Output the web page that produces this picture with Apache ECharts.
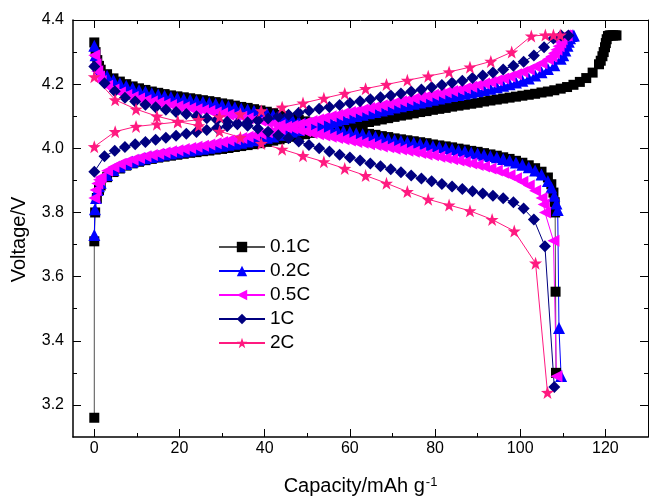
<!DOCTYPE html>
<html>
<head>
<meta charset="utf-8">
<script src="https://cdn.jsdelivr.net/npm/echarts@6/dist/echarts.min.js"></script>
<style>
html,body{margin:0;padding:0;background:#fff;}
#chart{width:650px;height:496px;}
</style>
</head>
<body>
<div id="chart"></div>
<script>
// Charge / discharge voltage profiles at several C-rates.

const rateNames = ['0.1C', '0.2C', '0.5C', '1C', '2C'];
const xMajorTicks = [0, 20, 40, 60, 80, 100, 120];
const xMinorTicks = [10, 30, 50, 70, 90, 110];
const yMajorTicks = [3.2, 3.4, 3.6, 3.8, 4.0, 4.2, 4.4];
const yMinorTicks = [3.3, 3.5, 3.7, 3.9, 4.1, 4.3];

// Capacity grid (mAh/g) shared by the densely sampled low-rate curves
const capGrid = [1.5,3,4.5,6,7.5,9,10.5,12,13.5,15,16.5,18,19.5,21,22.5,24,25.5,27,28.5,30,
  31.5,33,34.5,36,37.5,39,40.5,42,43.5,45,46.5,48,49.5,51,52.5,54,55.5,57,58.5,60,
  61.5,63,64.5,66,67.5,69,70.5,72,73.5,75,76.5,78,79.5,81,82.5,84,85.5,87,88.5,90,
  91.5,93,94.5,96,97.5,99,100.5,102,103.5,105,106.5,108,109.5,111,112.5,114,115.5,117,118.5,120];

// 0.1C
const head01Dis = [[0,4.33],[0.3,4.3],[0.7,4.275],[1.1,4.257]];
const volt01Dis = [4.245,4.231,4.218,4.208,4.2,4.193,4.187,4.182,4.177,4.173,
  4.169,4.165,4.162,4.159,4.156,4.153,4.15,4.147,4.144,4.14,
  4.137,4.133,4.129,4.126,4.122,4.118,4.114,4.109,4.104,4.099,
  4.094,4.089,4.084,4.08,4.075,4.071,4.067,4.063,4.059,4.056,
  4.052,4.049,4.045,4.042,4.038,4.035,4.031,4.028,4.025,4.022,
  4.019,4.016,4.012,4.009,4.006,4.003,3.999,3.996,3.992,3.989,
  3.985,3.981,3.977,3.972,3.967,3.961,3.955,3.947,3.938,3.927,
  3.909];
const tail01Dis = [[107.3,3.888],[107.8,3.862],[108.1,3.832],[108.2,3.8],[108.3,3.553],[108.4,3.3]];
const head01Chg = [[0,3.16],[0,3.71],[0.2,3.8],[0.6,3.845],[1.1,3.87]];
const volt01Chg = [3.884,3.91,3.926,3.937,3.946,3.953,3.958,3.963,3.967,3.971,
  3.974,3.977,3.98,3.983,3.986,3.988,3.991,3.993,3.996,3.998,
  4.001,4.004,4.007,4.01,4.013,4.016,4.02,4.024,4.028,4.032,
  4.036,4.04,4.044,4.048,4.052,4.056,4.06,4.064,4.067,4.07,
  4.074,4.078,4.082,4.086,4.09,4.094,4.098,4.102,4.105,4.109,
  4.113,4.116,4.12,4.123,4.126,4.13,4.133,4.136,4.139,4.142,
  4.146,4.149,4.152,4.155,4.158,4.161,4.164,4.167,4.17,4.174,
  4.177,4.181,4.186,4.191,4.198,4.207,4.219,4.236,4.262];
const tail01Chg = [[118.9,4.273],[119.3,4.287],[119.6,4.3],[119.9,4.315],[120.1,4.328],[120.3,4.34],
  [120.6,4.35],[121,4.352],[121.4,4.352],[121.8,4.352],[122.2,4.352],[122.6,4.352]];

// 0.2C
const head02Dis = [[0,4.32],[0.3,4.29],[0.7,4.266],[1.1,4.25]];
const volt02Dis = [4.24,4.226,4.213,4.203,4.195,4.188,4.182,4.177,4.172,4.168,
  4.164,4.16,4.157,4.154,4.151,4.148,4.145,4.142,4.139,4.135,
  4.132,4.128,4.124,4.121,4.117,4.113,4.109,4.104,4.099,4.094,
  4.089,4.084,4.079,4.075,4.07,4.066,4.062,4.058,4.054,4.051,
  4.047,4.044,4.04,4.037,4.033,4.03,4.026,4.023,4.02,4.017,
  4.014,4.011,4.007,4.004,4.001,3.998,3.994,3.991,3.987,3.984,
  3.98,3.976,3.972,3.967,3.962,3.956,3.949,3.941,3.931,3.918,
  3.898];
const tail02Dis = [[107.3,3.878],[108,3.852],[108.5,3.828],[108.8,3.808],[109.1,3.44],[109.6,3.29]];
const head02Chg = [[0,3.73],[0.15,3.81],[0.4,3.845],[0.8,3.87],[1.1,3.882]];
const volt02Chg = [3.893,3.917,3.932,3.943,3.951,3.958,3.964,3.969,3.973,3.977,
  3.981,3.984,3.987,3.99,3.993,3.996,3.999,4.002,4.005,4.008,
  4.011,4.014,4.017,4.021,4.025,4.029,4.033,4.037,4.042,4.047,
  4.052,4.057,4.062,4.067,4.072,4.077,4.082,4.087,4.091,4.096,
  4.101,4.105,4.109,4.113,4.118,4.122,4.127,4.131,4.135,4.139,
  4.143,4.147,4.151,4.155,4.159,4.163,4.166,4.17,4.174,4.178,
  4.182,4.186,4.19,4.195,4.2,4.205,4.211,4.218,4.227,4.237,
  4.247,4.259,4.279];
const tail02Chg = [[110.1,4.29],[110.6,4.305],[111.1,4.32],[111.4,4.332],[111.7,4.343],[112,4.35],[112.3,4.352],[112.6,4.352]];

// 0.5C
const head05Dis = [[0,4.29],[0.3,4.262],[0.7,4.24],[1.1,4.224]];
const volt05Dis = [4.21,4.195,4.183,4.174,4.166,4.16,4.155,4.15,4.146,4.142,
  4.138,4.135,4.131,4.128,4.125,4.122,4.119,4.116,4.112,4.109,
  4.105,4.102,4.098,4.094,4.09,4.086,4.081,4.077,4.072,4.067,
  4.062,4.057,4.053,4.048,4.044,4.04,4.036,4.032,4.028,4.024,
  4.02,4.017,4.013,4.01,4.006,4.003,3.999,3.996,3.992,3.989,
  3.985,3.981,3.978,3.974,3.97,3.966,3.962,3.957,3.953,3.948,
  3.943,3.937,3.931,3.924,3.916,3.907,3.896,3.884,3.868,3.845];
const tail05Dis = [[105.5,3.825],[105.8,3.8],[107.8,3.712],[108.5,3.289]];
const head05Chg = [[0,3.845],[0.3,3.87],[0.7,3.89],[1.1,3.902]];
const volt05Chg = [3.91,3.93,3.942,3.951,3.958,3.964,3.97,3.975,3.979,3.983,
  3.987,3.991,3.994,3.998,4.001,4.005,4.008,4.012,4.016,4.02,
  4.024,4.028,4.032,4.036,4.04,4.045,4.05,4.055,4.06,4.065,
  4.07,4.075,4.08,4.085,4.09,4.095,4.1,4.104,4.109,4.113,
  4.117,4.121,4.126,4.13,4.134,4.139,4.143,4.147,4.151,4.155,
  4.159,4.163,4.167,4.171,4.175,4.179,4.183,4.187,4.192,4.197,
  4.202,4.207,4.212,4.218,4.224,4.231,4.238,4.246,4.255,4.265,
  4.278];
const tail05Chg = [[107.3,4.286],[107.9,4.296],[108.5,4.307],[109,4.318],[109.4,4.33],[109.7,4.34],[110.1,4.35],[110.5,4.352],[110.9,4.352]];

// 1C
const cap1CDis = [0,2.4,4.8,7.2,9.6,12,14.4,16.8,19.2,21.6,24,26.4,28.8,31.2,33.6,36,38.4,40.8,43.2,45.6,
  48,50.4,52.8,55.2,57.6,60,62.4,64.8,67.2,69.6,72,74.4,76.8,79.2,81.6,84,86.4,88.8,91.2,93.6,
  96,98.4,100.8,103.2,105.8,108];
const volt1CDis = [4.255,4.203,4.178,4.158,4.146,4.136,4.128,4.12,4.113,4.107,4.1,4.094,4.088,4.083,4.077,4.07,4.062,4.052,4.041,4.031,
  4.021,4.01,4.0,3.99,3.98,3.971,3.962,3.953,3.944,3.935,3.925,3.915,3.906,3.897,3.889,3.881,3.873,3.866,3.859,3.852,
  3.844,3.832,3.812,3.778,3.695,3.256];
const cap1CChg = [0,2.4,4.8,7.2,9.6,12,14.4,16.8,19.2,21.6,24,26.4,28.8,31.2,33.6,36,38.4,40.8,43.2,45.6,
  48,50.4,52.8,55.2,57.6,60,62.4,64.8,67.2,69.6,72,74.4,76.8,79.2,81.6,84,86.4,88.8,91.2,93.6,
  96,98.4,100.8,103.2,105.6,107.8,109.6,111.3];
const volt1CChg = [3.927,3.975,3.992,4.004,4.013,4.02,4.027,4.033,4.039,4.045,4.051,4.057,4.063,4.069,4.075,4.081,4.087,4.093,4.099,4.105,
  4.111,4.117,4.123,4.129,4.135,4.141,4.147,4.153,4.159,4.165,4.171,4.177,4.183,4.19,4.197,4.204,4.211,4.219,4.227,4.236,
  4.246,4.257,4.27,4.289,4.315,4.342,4.352,4.352];

// 2C
const cap2CDis = [0,4.9,9.8,14.7,19.6,24.5,29.4,34.3,39.2,44.1,49,53.9,58.8,63.7,68.6,73.5,78.4,83.3,88.2,93.4,98.6,103.6,106.4];
const volt2CDis = [4.223,4.151,4.122,4.1,4.084,4.07,4.053,4.034,4.015,3.997,3.977,3.958,3.937,3.915,3.891,3.865,3.841,3.823,3.805,3.778,3.742,3.642,3.239];
const cap2CChg = [0,4.9,9.8,14.7,19.6,24.5,29.4,34.3,39.2,44.1,49,53.9,58.8,63.7,68.6,73.5,78.4,83.3,88.2,93.1,98,102.6,105.9,107.8,109.4];
const volt2CChg = [4.005,4.052,4.068,4.075,4.082,4.089,4.098,4.107,4.117,4.128,4.141,4.156,4.171,4.186,4.199,4.212,4.225,4.238,4.253,4.271,4.3,4.35,4.353,4.353,4.353];

// ---- building the series ----
function onGrid(head, volts, tail) {
  return head.concat(volts.map((v, i) => [capGrid[i], v]), tail);
}
function pairs(caps, volts) {
  return volts.map((v, i) => [caps[i], v]);
}

const starPath = 'path://M0,-100 L23.5,-32.4 L95.1,-30.9 L38,12.4 L58.8,80.9 L0,40 L-58.8,80.9 L-38,12.4 L-95.1,-30.9 L-23.5,-32.4 Z';

const rateStyle = {
  '0.1C': {fill: '#000000', line: '#505050', symbol: 'rect', size: 10, rotate: 0},
  '0.2C': {fill: '#0000ff', line: '#0000ff', symbol: 'triangle', size: 12, rotate: 0},
  '0.5C': {fill: '#ff00ff', line: '#ff00ff', symbol: 'triangle', size: 12, rotate: 90},
  '1C':   {fill: '#000080', line: '#000080', symbol: 'diamond', size: 12, rotate: 0},
  '2C':   {fill: '#ff1a80', line: '#ff1a80', symbol: starPath, size: 13, rotate: 0}
};

const curves = [
  ['0.1C', onGrid(head01Dis, volt01Dis, tail01Dis)],
  ['0.1C', onGrid(head01Chg, volt01Chg, tail01Chg)],
  ['0.2C', onGrid(head02Dis, volt02Dis, tail02Dis)],
  ['0.2C', onGrid(head02Chg, volt02Chg, tail02Chg)],
  ['0.5C', onGrid(head05Dis, volt05Dis, tail05Dis)],
  ['0.5C', onGrid(head05Chg, volt05Chg, tail05Chg)],
  ['1C', pairs(cap1CDis, volt1CDis)],
  ['1C', pairs(cap1CChg, volt1CChg)],
  ['2C', pairs(cap2CDis, volt2CDis)],
  ['2C', pairs(cap2CChg, volt2CChg)]
];

const series = curves.map(([name, data]) => {
  const s = rateStyle[name];
  return {
    type: 'line',
    name: name,
    data: data,
    xAxisIndex: 0,
    yAxisIndex: 0,
    symbol: s.symbol,
    symbolSize: s.size,
    symbolRotate: s.rotate,
    showSymbol: true,
    lineStyle: {color: s.line, width: 1},
    itemStyle: {color: s.fill, borderWidth: 0},
    emphasis: {disabled: true},
    animation: false
  };
});

// ---- axes (frame with inward ticks on all four sides) ----
const FONT = 'Liberation Sans';
function xAxisDef(position, ticks, tickLen, withLabels, lineWidth) {
  return {
    type: 'value', position: position, min: -5, max: 130,
    axisLine: {show: lineWidth > 0, onZero: false, lineStyle: {color: '#000', width: lineWidth || 1}},
    axisTick: {show: true, inside: true, length: tickLen, customValues: ticks, lineStyle: {color: '#000', width: 1}},
    axisLabel: withLabels ? {show: true, customValues: ticks, margin: 4, fontSize: 16, color: '#000', fontFamily: FONT} : {show: false},
    splitLine: {show: false},
    name: withLabels ? 'Capacity/mAh g{sup|-1}' : '',
    nameLocation: 'middle',
    nameGap: 39,
    nameTextStyle: {fontSize: 20, color: '#000', fontFamily: FONT,
      rich: {sup: {fontSize: 13, color: '#000', fontFamily: FONT, verticalAlign: 'top', padding: [0, 0, 8, 1]}}}
  };
}
function yAxisDef(position, ticks, tickLen, withLabels, lineWidth) {
  return {
    type: 'value', position: position, min: 3.1, max: 4.4,
    axisLine: {show: lineWidth > 0, onZero: false, lineStyle: {color: '#000', width: lineWidth || 1}},
    axisTick: {show: true, inside: true, length: tickLen, customValues: ticks, lineStyle: {color: '#000', width: 1}},
    axisLabel: withLabels ? {show: true, customValues: ticks, margin: 9, fontSize: 16, color: '#000', fontFamily: FONT,
      formatter: v => v.toFixed(1)} : {show: false},
    splitLine: {show: false},
    name: withLabels ? 'Voltage/V' : '',
    nameLocation: 'middle',
    nameGap: 44,
    nameTextStyle: {fontSize: 20, color: '#000', fontFamily: FONT, padding: [0, 22, 0, 0]}
  };
}

const option = {
  backgroundColor: '#ffffff',
  animation: false,
  grid: {left: 73, right: 2, top: 20, bottom: 59, containLabel: false, outerBoundsMode: 'none'},
  legend: {
    data: rateNames,
    orient: 'vertical',
    left: 218,
    top: 237,
    padding: 0,
    itemWidth: 46,
    itemHeight: 13,
    itemGap: 4,
    selectedMode: false,
    textStyle: {fontSize: 19, color: '#000', fontFamily: FONT, lineHeight: 20}
  },
  xAxis: [
    xAxisDef('bottom', xMajorTicks, 8, true, 1.5),
    xAxisDef('bottom', xMinorTicks, 4, false, 0),
    xAxisDef('top', xMajorTicks, 8, false, 1),
    xAxisDef('top', xMinorTicks, 4, false, 0)
  ],
  yAxis: [
    yAxisDef('left', yMajorTicks, 8, true, 1.5),
    yAxisDef('left', yMinorTicks, 4, false, 0),
    yAxisDef('right', yMajorTicks, 8, false, 1),
    yAxisDef('right', yMinorTicks, 4, false, 0)
  ],
  series: series
};

const chart = echarts.init(document.getElementById('chart'), null, {renderer: 'canvas'});
chart.setOption(option);
</script>
</body>
</html>
